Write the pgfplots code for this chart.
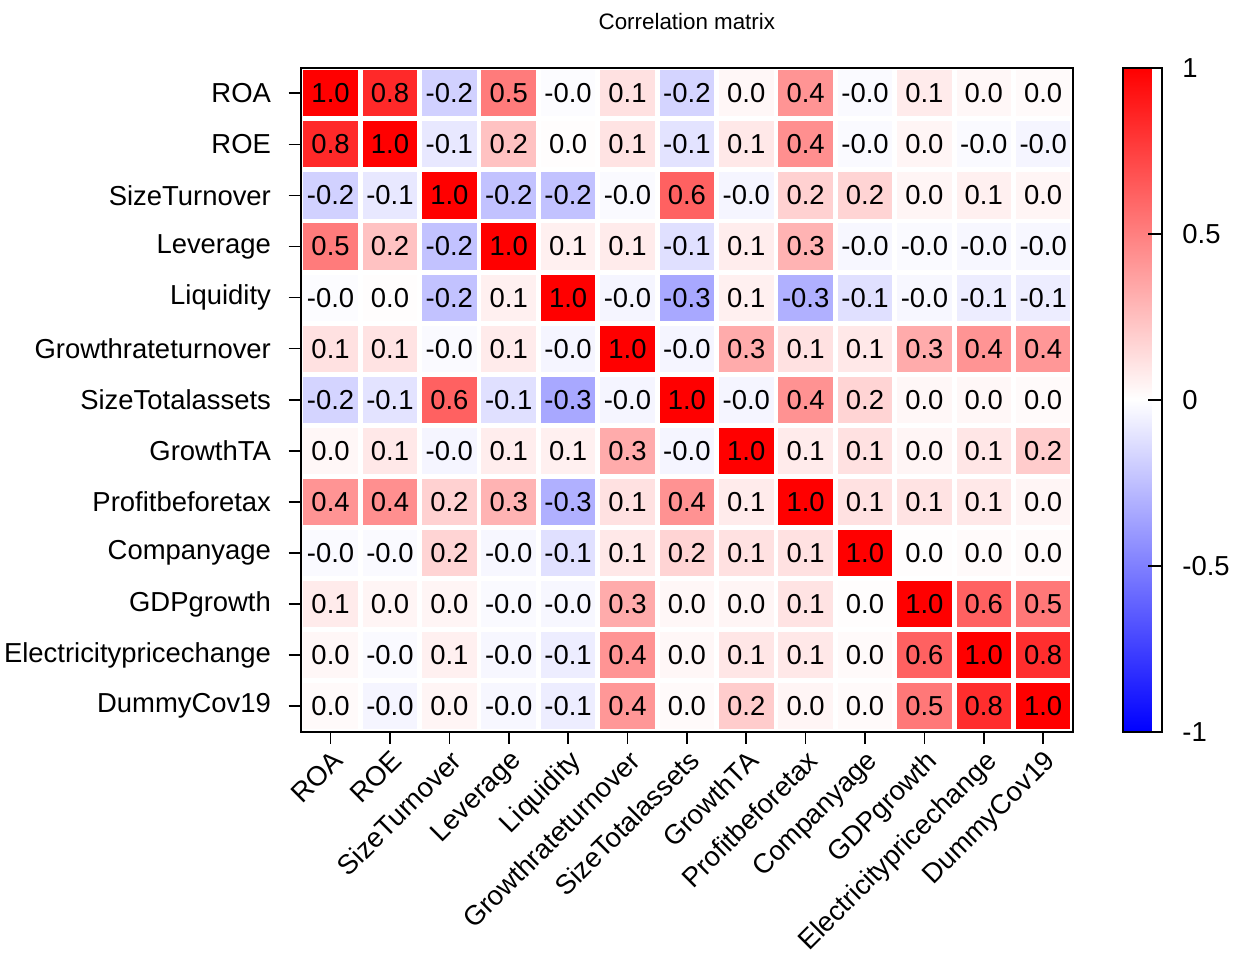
\documentclass[border=0pt]{standalone}
\usepackage{pgfplots}
\pgfplotsset{compat=1.18}
\usepackage{pgfplotstable}
\usepackage{fontspec}
\setmainfont{Liberation Sans}

\pgfplotstableread{
x y c lab
0 0 1.00 1.0
1 0 0.84 0.8
2 0 -0.18 -0.2
3 0 0.52 0.5
4 0 -0.01 -0.0
5 0 0.12 0.1
6 0 -0.17 -0.2
7 0 0.03 0.0
8 0 0.42 0.4
9 0 -0.02 -0.0
10 0 0.08 0.1
11 0 0.03 0.0
12 0 0.02 0.0
0 1 0.84 0.8
1 1 1.00 1.0
2 1 -0.09 -0.1
3 1 0.24 0.2
4 1 0.01 0.0
5 1 0.11 0.1
6 1 -0.11 -0.1
7 1 0.09 0.1
8 1 0.44 0.4
9 1 -0.02 -0.0
10 1 0.04 0.0
11 1 -0.02 -0.0
12 1 -0.04 -0.0
0 2 -0.18 -0.2
1 2 -0.09 -0.1
2 2 1.00 1.0
3 2 -0.24 -0.2
4 2 -0.24 -0.2
5 2 -0.02 -0.0
6 2 0.62 0.6
7 2 -0.04 -0.0
8 2 0.18 0.2
9 2 0.17 0.2
10 2 0.04 0.0
11 2 0.06 0.1
12 2 0.04 0.0
0 3 0.52 0.5
1 3 0.24 0.2
2 3 -0.24 -0.2
3 3 1.00 1.0
4 3 0.06 0.1
5 3 0.08 0.1
6 3 -0.12 -0.1
7 3 0.07 0.1
8 3 0.30 0.3
9 3 -0.03 -0.0
10 3 -0.02 -0.0
11 3 -0.03 -0.0
12 3 -0.03 -0.0
0 4 -0.01 -0.0
1 4 0.01 0.0
2 4 -0.24 -0.2
3 4 0.06 0.1
4 4 1.00 1.0
5 4 -0.04 -0.0
6 4 -0.34 -0.3
7 4 0.06 0.1
8 4 -0.31 -0.3
9 4 -0.12 -0.1
10 4 -0.03 -0.0
11 4 -0.07 -0.1
12 4 -0.07 -0.1
0 5 0.12 0.1
1 5 0.11 0.1
2 5 -0.02 -0.0
3 5 0.08 0.1
4 5 -0.04 -0.0
5 5 1.00 1.0
6 5 -0.04 -0.0
7 5 0.33 0.3
8 5 0.12 0.1
9 5 0.09 0.1
10 5 0.33 0.3
11 5 0.42 0.4
12 5 0.41 0.4
0 6 -0.17 -0.2
1 6 -0.11 -0.1
2 6 0.62 0.6
3 6 -0.12 -0.1
4 6 -0.34 -0.3
5 6 -0.04 -0.0
6 6 1.00 1.0
7 6 -0.04 -0.0
8 6 0.43 0.4
9 6 0.17 0.2
10 6 0.03 0.0
11 6 0.03 0.0
12 6 0.02 0.0
0 7 0.03 0.0
1 7 0.09 0.1
2 7 -0.04 -0.0
3 7 0.07 0.1
4 7 0.06 0.1
5 7 0.33 0.3
6 7 -0.04 -0.0
7 7 1.00 1.0
8 7 0.08 0.1
9 7 0.12 0.1
10 7 0.04 0.0
11 7 0.10 0.1
12 7 0.20 0.2
0 8 0.42 0.4
1 8 0.44 0.4
2 8 0.18 0.2
3 8 0.30 0.3
4 8 -0.31 -0.3
5 8 0.12 0.1
6 8 0.43 0.4
7 8 0.08 0.1
8 8 1.00 1.0
9 8 0.12 0.1
10 8 0.11 0.1
11 8 0.09 0.1
12 8 0.04 0.0
0 9 -0.02 -0.0
1 9 -0.02 -0.0
2 9 0.17 0.2
3 9 -0.03 -0.0
4 9 -0.12 -0.1
5 9 0.09 0.1
6 9 0.17 0.2
7 9 0.12 0.1
8 9 0.12 0.1
9 9 1.00 1.0
10 9 0.01 0.0
11 9 0.02 0.0
12 9 0.02 0.0
0 10 0.08 0.1
1 10 0.04 0.0
2 10 0.04 0.0
3 10 -0.02 -0.0
4 10 -0.03 -0.0
5 10 0.33 0.3
6 10 0.03 0.0
7 10 0.04 0.0
8 10 0.11 0.1
9 10 0.01 0.0
10 10 1.00 1.0
11 10 0.62 0.6
12 10 0.53 0.5
0 11 0.03 0.0
1 11 -0.02 -0.0
2 11 0.06 0.1
3 11 -0.03 -0.0
4 11 -0.07 -0.1
5 11 0.42 0.4
6 11 0.03 0.0
7 11 0.10 0.1
8 11 0.09 0.1
9 11 0.02 0.0
10 11 0.62 0.6
11 11 1.00 1.0
12 11 0.82 0.8
0 12 0.02 0.0
1 12 -0.04 -0.0
2 12 0.04 0.0
3 12 -0.03 -0.0
4 12 -0.07 -0.1
5 12 0.41 0.4
6 12 0.02 0.0
7 12 0.20 0.2
8 12 0.04 0.0
9 12 0.02 0.0
10 12 0.53 0.5
11 12 0.82 0.8
12 12 1.00 1.0
}\corr

\begin{document}
\begin{tikzpicture}
\begin{axis}[
  scale only axis,
  width=378.5bp, height=325.5bp,
  xmin=-0.5, xmax=12.5, ymin=-0.5, ymax=12.5,
  y dir=reverse,
  font=\fontsize{13.5}{16}\selectfont,
  title={Correlation matrix},
  title style={font=\fontsize{11}{13}\selectfont, inner sep=6.5bp, yshift=6bp},
  xtick={0,...,12}, ytick={0,...,12},
  xticklabels={ROA,ROE,SizeTurnover,Leverage,Liquidity,Growthrateturnover,SizeTotalassets,GrowthTA,Profitbeforetax,Companyage,GDPgrowth,Electricitypricechange,DummyCov19},
  yticklabels={ROA,ROE,SizeTurnover,Leverage,Liquidity,Growthrateturnover,SizeTotalassets,GrowthTA,Profitbeforetax,Companyage,GDPgrowth,Electricitypricechange,DummyCov19},
  xticklabel style={rotate=45, anchor=north east, inner sep=1.5bp},
  yticklabel style={inner sep=2bp, xshift=-6.5bp},
  tick align=outside,
  xtick pos=bottom, ytick pos=left,
  major tick length=6bp,
  tick style={black, line width=0.8bp},
  axis line style={line width=1bp},
  minor xtick={-0.5,0.5,...,12.5},
  minor ytick={-0.5,0.5,...,12.5},
  minor tick length=0pt,
  xminorgrids, yminorgrids,
  minor grid style={white, line width=2.4bp},
  axis on top,
  colormap={bwr}{rgb255=(0,0,255) rgb255=(255,255,255) rgb255=(255,0,0)},
  point meta min=-1, point meta max=1,
  colorbar,
  colorbar style={
    scale only axis,
    width=19bp,
    at={(parent axis.north east)}, anchor=north west, xshift=16bp,
    ytick={-1,-0.5,0,0.5,1},
    ytick pos=right,
    yticklabel pos=right,
    tick align=inside,
    major tick length=6.5bp,
    yticklabel style={/pgf/number format/assume math mode=true, font=\fontsize{13.5}{16}\selectfont, inner sep=8bp, xshift=2bp},
    axis line style={line width=1bp},
  },
]
\addplot[matrix plot*, mesh/cols=13, point meta=explicit] table[x=x, y=y, meta=c] {\corr};
\addplot[only marks, mark=none, point meta=explicit symbolic,
  nodes near coords, nodes near coords align=center,
  every node near coord/.append style={font=\fontsize{13.5}{16}\selectfont, black, anchor=center}]
  table[x=x, y=y, meta=lab] {\corr};
\end{axis}
\end{tikzpicture}
\end{document}
